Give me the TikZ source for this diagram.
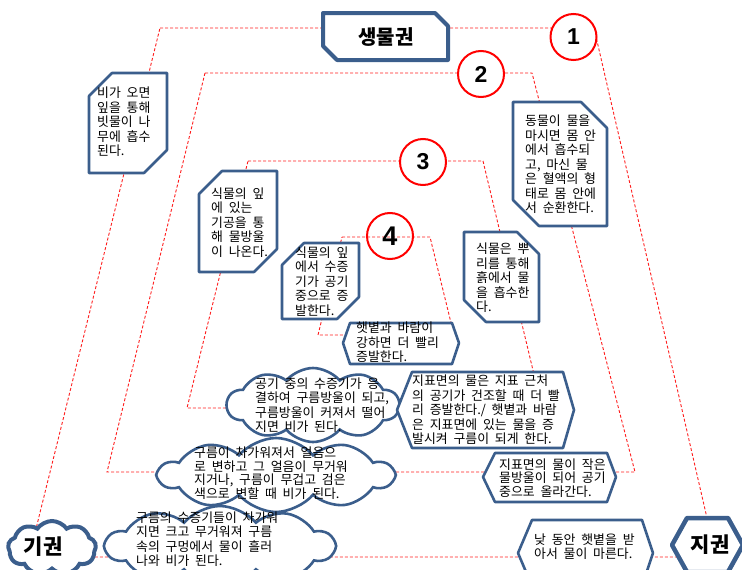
\documentclass[tikz,border=0pt]{standalone}
\usepackage{fontspec}
\usetikzlibrary{shapes.symbols}
\newfontfamily\kr{Noto Sans CJK KR}[WordSpace=2.0]
\newfontfamily\numf{Liberation Sans}
\definecolor{bl}{RGB}{59,94,140}
\definecolor{rd}{RGB}{255,30,30}
\begin{document}
\begin{tikzpicture}[x=1pt,y=-1pt,
  trap/.style={draw=rd, dash pattern=on 3pt off 2pt, line width=0.9pt},
  boxln/.style={draw=bl, line width=2.6pt, fill=white, line join=round},
  ktxt/.style={font=\kr\fontsize{12.9}{14.5}\selectfont, align=left, inner sep=0pt, anchor=west, text=black},
  ktxs/.style={font=\kr\fontsize{12.9}{13.5}\selectfont, align=left, inner sep=0pt, anchor=west, text=black},
  numc/.style={circle, draw=red, line width=2pt, minimum size=46pt, inner sep=0pt, font=\numf\bfseries\fontsize{23}{23}\selectfont},
  cld/.style={cloud, cloud puffs=10, cloud puff arc=100, cloud ignores aspect, draw=bl, line width=2.6pt, fill=white, inner sep=0pt},
  ttl/.style={font=\kr\bfseries\fontsize{20}{20}\selectfont, inner sep=0pt}]
\useasboundingbox (0,0) rectangle (742,570);
\clip (0,0) rectangle (742,570);

% dashed trapezoids
\draw[trap] (160,28) -- (594,28) -- (716,557) -- (29,557) -- cycle;
\draw[trap] (205,73) -- (532,73) -- (635,472) -- (107,472) -- cycle;
\draw[trap] (248,161) -- (483,161) -- (542,408) -- (187,408) -- cycle;
\draw[trap] (342,237) -- (430,237) -- (454,335) -- (318,335) -- cycle;

% circles
\node[numc, fill=white] (n1) at (573.5,37) {1};
\node[numc, fill=white] (n2) at (481,74) {2};
\node[numc, fill=white] (n3) at (423,162) {3};
\node[numc, font=\numf\bfseries\fontsize{27}{27}\selectfont] (n4) at (390,236) {4};

% title box
\draw[boxln, line width=4pt] (323,13) -- (435,13) -- (448,26) -- (448,60) -- (337,60) -- (323,46) -- cycle;
\node[ttl] (bio) at (386,37) {생물권};

% snipped boxes
\draw[boxln] (89,96) -- (112,73) -- (167,73) -- (167,150) -- (144,173) -- (89,173) -- cycle;
\node[ktxt] (tA) at (97,122) {비가 오면\\잎을 통해\\빗물이 나\\무에 흡수\\된다.};

\draw[boxln] (513,102) -- (581,102) -- (607,128) -- (607,226) -- (539,226) -- (513,200) -- cycle;
\node[ktxt] (tB) at (525,164.5) {동물이 물을\\마시면 몸 안\\에서 흡수되\\고, 마신 물\\은 혈액의 형\\태로 몸 안에\\서 순환한다.};

\draw[boxln] (199,194) -- (222,171) -- (277,171) -- (277,249) -- (254,272) -- (199,272) -- cycle;
\node[ktxt] (tC) at (211,222.5) {식물의 잎\\에 있는\\기공을 통\\해 물방울\\이 나온다.};

\draw[boxln] (282,265) -- (304,243) -- (359,243) -- (359,297) -- (337,319) -- (282,319) -- cycle;
\node[ktxt] (tD) at (295,281.5) {식물의 잎\\에서 수증\\기가 공기\\중으로 증\\발한다.};

\draw[boxln] (464,232) -- (517,232) -- (539,254) -- (539,322) -- (486,322) -- (464,300) -- cycle;
\node[ktxt] (tE) at (476,278) {식물은 뿌\\리를 통해\\흙에서 물\\을 흡수한\\다.};

% hexagons
\draw[boxln] (343,343) -- (350,323) -- (452,323) -- (459,343) -- (452,364) -- (350,364) -- cycle;
\node[ktxt] (tF) at (356,342.5) {햇볕과 바람이\\강하면 더 빨리\\증발한다.};

% clouds
\node[cld, minimum width=172pt, minimum height=74pt] (cG) at (313,405) {};
\node[ktxt] (tG) at (255,405) {공기 중의 수증기가 응\\결하여 구름방울이 되고,\\구름방울이 커져서 떨어\\지면 비가 된다.};

\draw[boxln] (397,410) -- (412,372) -- (563,372) -- (574,410) -- (563,448) -- (412,448) -- cycle;
\node[ktxt] (tH) at (412,410) {지표면의 물은 지표 근처\\의 공기가 건조할 때 더 빨\\리 증발한다./ 햇볕과 바람\\은 지표면에 있는 물을 증\\발시켜 구름이 되게 한다.};

\node[cld, minimum width=234pt, minimum height=74pt] (cI) at (276,475) {};
\node[ktxs] (tI) at (194,473) {구름이 차가워져서 얼음으\\로 변하고 그 얼음이 무거워\\지거나, 구름이 무겁고 검은\\색으로 변할 때 비가 된다.};

\draw[boxln] (483,477) -- (495,453) -- (607,453) -- (616,477) -- (607,502) -- (495,502) -- cycle;
\node[ktxs] (tJ) at (499,478) {지표면의 물이 작은\\물방울이 되어 공기\\중으로 올라간다.};

\node[cld, minimum width=228pt, minimum height=80pt] (cK) at (220,546) {};
\node[ktxt] (tK) at (136,539) {구름의 수증기들이 차가워\\지면 크고 무거워져 구름\\속의 구멍에서 물이 흘러\\나와 비가 된다.};

\draw[boxln] (518,553) -- (532,520) -- (642,520) -- (653,553) -- (642,586) -- (532,586) -- cycle;
\node[ktxs] (tL) at (534,546.5) {낮 동안 햇볕을 받\\아서 물이 마른다.};

% corner titles
\node[cld, cloud puffs=9, cloud puff arc=110, line width=4pt, minimum width=88pt, minimum height=54pt] (cAir) at (52,548) {};
\node[ttl, font=\kr\bfseries\fontsize{21}{21}\selectfont] (air) at (43,547) {기권};

\draw[boxln, line width=4.5pt] (672,545) -- (687,518) -- (728,518) -- (743,545) -- (728,572) -- (687,572) -- cycle;
\node[ttl, font=\kr\bfseries\fontsize{21}{21}\selectfont] (geo) at (710,545) {지권};
\end{tikzpicture}
\end{document}
